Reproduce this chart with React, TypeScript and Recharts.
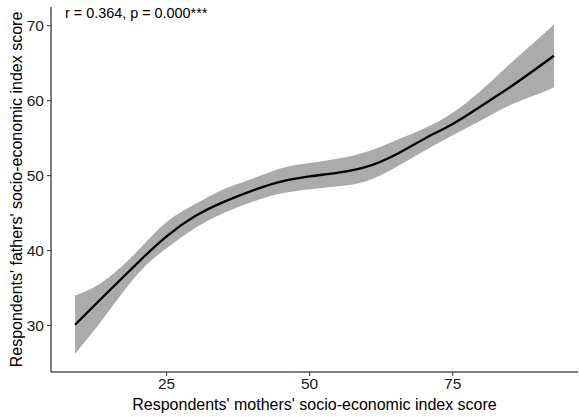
import { Area, ComposedChart, Line, XAxis, YAxis } from "recharts"

const motherScore = [9, 14, 20, 25, 30, 35, 40, 45, 50, 55, 60, 65, 70, 75, 80, 85, 90, 92.7]
const fatherFit = [30.1, 33.9, 38.4, 41.9, 44.6, 46.5, 48.0, 49.2, 49.9, 50.4, 51.2, 52.8, 54.9, 56.9, 59.3, 61.8, 64.5, 66.0]
const fatherLower = [26.2, 31.0, 36.9, 40.3, 43.0, 45.0, 46.5, 47.6, 48.2, 48.6, 49.3, 51.1, 53.3, 55.4, 57.4, 59.4, 60.9, 61.8]
const fatherUpper = [34.0, 35.9, 40.0, 43.8, 46.2, 48.2, 49.6, 51.0, 51.7, 52.3, 53.2, 54.7, 56.3, 58.4, 61.4, 64.9, 68.3, 70.2]

const xTicks = [25, 50, 75]
const yTicks = [30, 40, 50, 60, 70]

const data = motherScore.map((x, i) => ({
  x,
  fit: fatherFit[i],
  band: [fatherLower[i], fatherUpper[i]],
}))

const font = "'Liberation Sans', Arial, sans-serif"

export default function App() {
  return (
    <div style={{ position: "absolute", left: 0, top: 0, width: 579, height: 417, fontFamily: font }}>
      <ComposedChart width={579} height={417} data={data} margin={{ top: 7, right: 1, left: 0, bottom: 0 }}>
        <XAxis
          dataKey="x"
          type="number"
          domain={[4.8, 96.9]}
          ticks={xTicks}
          height={45}
          stroke="#000"
          tick={{ fill: "#1a1a1a", fontSize: 15.5, fontFamily: font }}
          tickLine={{ stroke: "#333" }}
          tickSize={4}
          tickMargin={2}
          label={{
            value: "Respondents' mothers' socio-economic index score",
            position: "insideBottom",
            offset: 7,
            fill: "#000",
            fontSize: 16,
            fontFamily: font,
          }}
        />
        <YAxis
          type="number"
          domain={[23.8, 72.5]}
          ticks={yTicks}
          width={51}
          stroke="#000"
          tick={{ fill: "#1a1a1a", fontSize: 15.5, fontFamily: font }}
          tickLine={{ stroke: "#333" }}
          tickSize={4}
          tickMargin={3}
          label={{
            value: "Respondents' fathers' socio-economic index score",
            angle: -90,
            position: "insideLeft",
            offset: 16,
            fill: "#000",
            fontSize: 16,
            fontFamily: font,
            style: { textAnchor: "middle" },
          }}
        />
        <Area
          dataKey="band"
          type="natural"
          stroke="none"
          fill="#ababab"
          fillOpacity={1}
          isAnimationActive={false}
        />
        <Line dataKey="fit" type="natural" stroke="#000" strokeWidth={2.3} dot={false} isAnimationActive={false} />
      </ComposedChart>
      <div style={{ position: "absolute", left: 65, top: 5, fontSize: 14.4, color: "#000", fontFamily: font }}>
        r = 0.364, p = 0.000***
      </div>
    </div>
  )
}
